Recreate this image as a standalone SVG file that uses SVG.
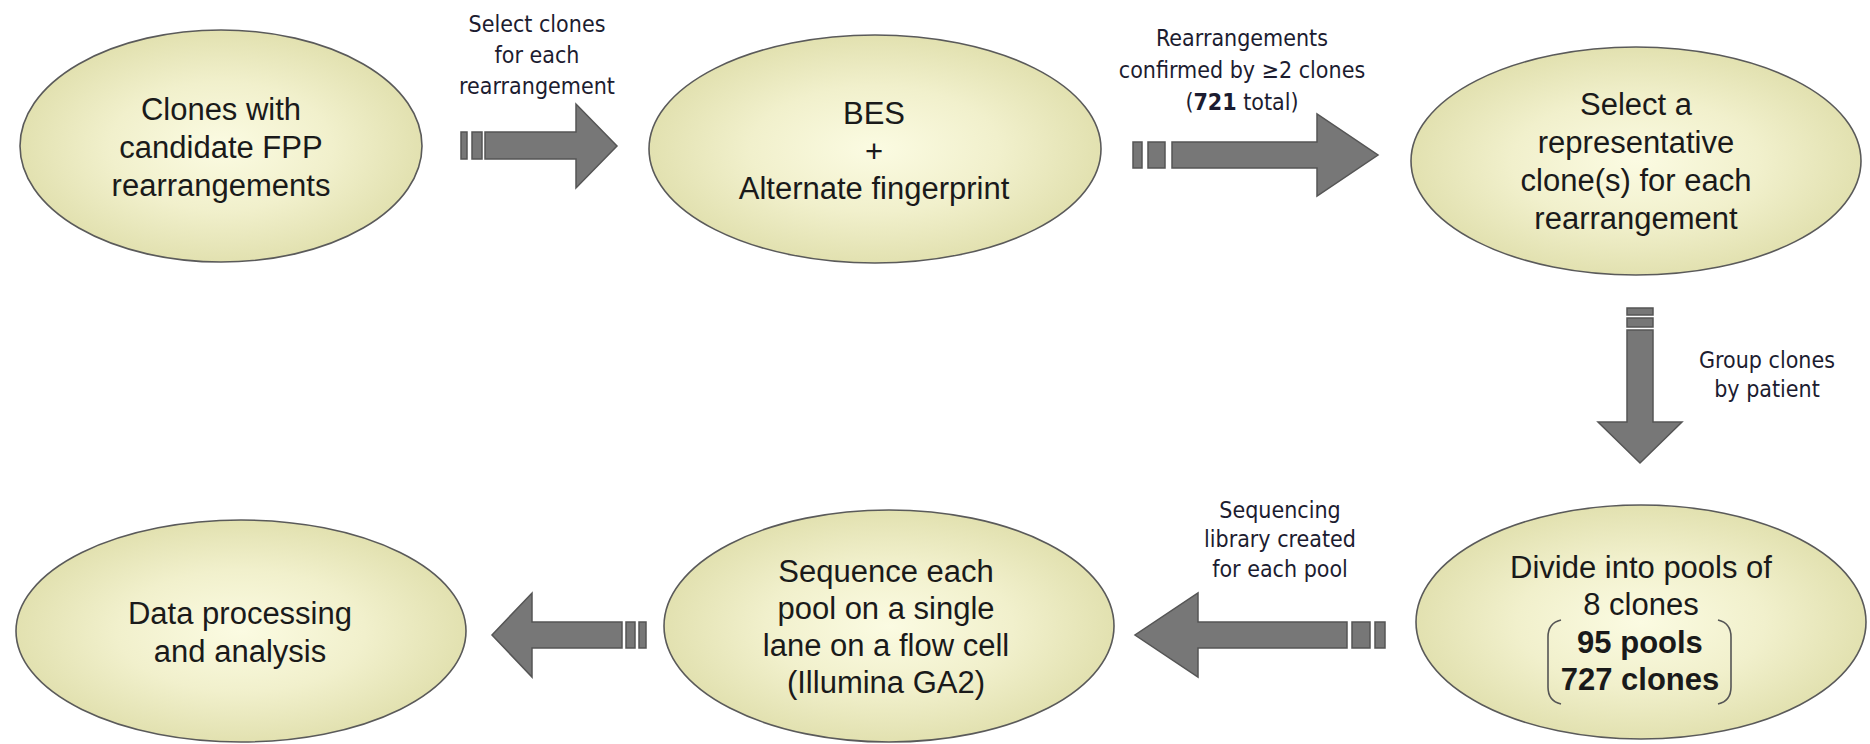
<svg xmlns="http://www.w3.org/2000/svg" width="1870" height="744" viewBox="0 0 1870 744">
<defs>
<radialGradient id="eg" cx="50%" cy="50%" r="50%">
<stop offset="0" stop-color="#fbfbe2"/>
<stop offset="0.55" stop-color="#f1f0cc"/>
<stop offset="1" stop-color="#e2e1b0"/>
</radialGradient>
<style>
.el{fill:url(#eg);stroke:#5a5a5a;stroke-width:1.6}
.nt{font-family:"Liberation Sans",Arial,sans-serif;font-size:31px;fill:#1a1a1a;text-anchor:middle}
.b{font-weight:bold}
.lb{font-family:"DejaVu Sans Condensed","DejaVu Sans",sans-serif;font-stretch:condensed;font-size:23px;fill:#1c1c30;text-anchor:middle}
.ar{fill:#777777;stroke:#555555;stroke-width:1.5;stroke-linejoin:miter}
.br{fill:none;stroke:#555;stroke-width:1.6}
</style>
</defs>
<rect width="1870" height="744" fill="#ffffff"/>

<g id="connectors">
<g id="arrow1">
<rect class="ar" x="461" y="132" width="6" height="27"/>
<rect class="ar" x="472" y="132" width="10" height="27"/>
<polygon class="ar" points="485,132 576,132 576,104 617,146 576,188 576,159 485,159"/>
<text class="lb" x="537"><tspan x="537" y="32">Select clones</tspan><tspan x="537" y="63">for each</tspan><tspan x="537" y="94">rearrangement</tspan></text>
</g>
<g id="arrow2">
<rect class="ar" x="1133" y="142" width="9" height="26"/>
<rect class="ar" x="1148" y="142" width="17" height="26"/>
<polygon class="ar" points="1172,142 1317,142 1317,114 1378,155 1317,196 1317,168 1172,168"/>
<text class="lb" x="1242"><tspan x="1242" y="46">Rearrangements</tspan><tspan x="1242" y="78">confirmed by ≥2 clones</tspan><tspan x="1242" y="110">(<tspan class="b">721</tspan> total)</tspan></text>
</g>
<g id="arrow3">
<rect class="ar" x="1627" y="308" width="26" height="7"/>
<rect class="ar" x="1627" y="318" width="26" height="9"/>
<polygon class="ar" points="1627,330 1653,330 1653,422 1682,422 1640,463 1598,422 1627,422"/>
<text class="lb" x="1767"><tspan x="1767" y="368">Group clones</tspan><tspan x="1767" y="397">by patient</tspan></text>
</g>
<g id="arrow4">
<rect class="ar" x="1375" y="622" width="10" height="26"/>
<rect class="ar" x="1352" y="622" width="18" height="26"/>
<polygon class="ar" points="1347,622 1198,622 1198,593 1135,635 1198,677 1198,648 1347,648"/>
<text class="lb" x="1280"><tspan x="1280" y="518">Sequencing</tspan><tspan x="1280" y="547">library created</tspan><tspan x="1280" y="577">for each pool</tspan></text>
</g>
<g id="arrow5">
<rect class="ar" x="639" y="622" width="7" height="26"/>
<rect class="ar" x="626" y="622" width="9" height="26"/>
<polygon class="ar" points="622,622 532,622 532,593 492,635 532,677 532,648 622,648"/>
</g>
</g>

<g id="node1">
<ellipse class="el" cx="221" cy="146" rx="201" ry="116"/>
<text class="nt"><tspan x="221" y="120">Clones with</tspan><tspan x="221" y="158">candidate FPP</tspan><tspan x="221" y="196">rearrangements</tspan></text>
</g>
<g id="node2">
<ellipse class="el" cx="875" cy="149" rx="226" ry="114"/>
<text class="nt"><tspan x="874" y="124">BES</tspan><tspan x="874" y="162">+</tspan><tspan x="874" y="199">Alternate fingerprint</tspan></text>
</g>
<g id="node3">
<ellipse class="el" cx="1636" cy="161" rx="225" ry="114"/>
<text class="nt"><tspan x="1636" y="115">Select a</tspan><tspan x="1636" y="153">representative</tspan><tspan x="1636" y="191">clone(s) for each</tspan><tspan x="1636" y="229">rearrangement</tspan></text>
</g>
<g id="node4">
<ellipse class="el" cx="1641" cy="622" rx="225" ry="117"/>
<text class="nt"><tspan x="1641" y="578">Divide into pools of</tspan><tspan x="1641" y="615">8 clones</tspan><tspan class="b" x="1640" y="653">95 pools</tspan><tspan class="b" x="1640" y="690">727 clones</tspan></text>
<path class="br" d="M1561,620 Q1548,623 1548,637 L1548,687 Q1548,701 1561,704"/>
<path class="br" d="M1718,620 Q1731,623 1731,637 L1731,687 Q1731,701 1718,704"/>
</g>
<g id="node5">
<ellipse class="el" cx="889" cy="626" rx="225" ry="116"/>
<text class="nt"><tspan x="886" y="582">Sequence each</tspan><tspan x="886" y="619">pool on a single</tspan><tspan x="886" y="656">lane on a flow cell</tspan><tspan x="886" y="693">(Illumina GA2)</tspan></text>
</g>
<g id="node6">
<ellipse class="el" cx="241" cy="631" rx="225" ry="111"/>
<text class="nt"><tspan x="240" y="624">Data processing</tspan><tspan x="240" y="662">and analysis</tspan></text>
</g>
</svg>
